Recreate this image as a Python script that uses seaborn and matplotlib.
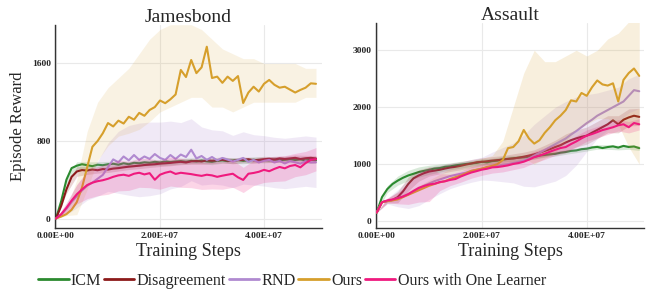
import numpy as np
import matplotlib
matplotlib.use("Agg")
import matplotlib.pyplot as plt
import seaborn as sns
from matplotlib.lines import Line2D

# ---------------- data ----------------
STEPS_M = list(range(0, 51))          # training steps, millions
BAND_STEPS_M = list(range(0, 51, 2))  # coarser grid for spread bands

SERIES = ["ICM", "Disagreement", "RND", "Ours", "Ours with One Learner"]
COLORS = ["#2b8a2f", "#8c1a1a", "#b08ad0", "#d69f2c", "#ef1a7e"]

X_TICKS = [0, 2e7, 4e7]
X_TICK_LABELS = ["0.00E+00", "2.00E+07", "4.00E+07"]
J_Y_TICKS = [0, 800, 1600]
A_Y_TICKS = [0, 1000, 2000, 3000]

# Jamesbond
J_ICM = [0, 180, 400, 520, 545, 560, 550, 540, 555, 550,
         560, 565, 555, 570, 560, 575, 570, 580, 575, 585,
         578, 590, 582, 588, 592, 585, 595, 588, 598, 590,
         585, 595, 600, 592, 598, 604, 595, 600, 606, 598,
         604, 600, 610, 602, 606, 612, 604, 610, 600, 606, 600]
J_DIS = [0, 130, 300, 430, 485, 500, 495, 505, 498, 510,
         505, 515, 520, 528, 535, 540, 545, 552, 556, 560,
         566, 570, 574, 580, 585, 578, 590, 594, 588, 600,
         596, 600, 606, 598, 594, 602, 606, 612, 600, 606,
         612, 616, 608, 620, 614, 620, 626, 614, 622, 626, 620]
J_RND = [0, 40, 100, 170, 230, 290, 340, 370, 410, 450,
         530, 610, 580, 640, 600, 655, 605, 640, 615, 665,
         625, 605, 655, 615, 660, 635, 710, 620, 645, 605,
         635, 600, 625, 608, 588, 605, 625, 585, 605, 578,
         595, 605, 578, 595, 568, 592, 580, 566, 592, 578, 580]
J_OURS = [0, 20, 45, 90, 170, 320, 530, 740, 800, 880,
          985, 950, 1010, 980, 1050, 1020, 1090, 1060, 1120, 1150,
          1218, 1190, 1230, 1280, 1533, 1460, 1636, 1500, 1560, 1773,
          1450, 1464, 1400, 1464, 1420, 1470, 1192, 1300, 1360, 1310,
          1390, 1430, 1380, 1350, 1360, 1330, 1300, 1327, 1350, 1395, 1390]
J_ONE = [0, 45, 110, 185, 250, 300, 345, 370, 385, 395,
         410, 430, 445, 452, 440, 462, 472, 455, 468, 400,
         452, 472, 485, 460, 472, 465, 458, 448, 440, 452,
         445, 430, 442, 452, 462, 425, 398, 462, 470, 482,
         502, 488, 512, 532, 518, 542, 552, 528, 572, 605, 612]

J_ICM_ERR = [0, 40, 40, 35, 30, 30, 30, 30, 30, 30, 30, 30, 30,
             30, 30, 30, 30, 30, 30, 30, 30, 30, 30, 30, 30, 30]
J_DIS_ERR = [0, 40, 50, 40, 30, 30, 30, 30, 30, 30, 30, 30, 30,
             30, 30, 30, 30, 30, 30, 30, 30, 30, 30, 30, 30, 30]
J_RND_ERR = [0, 60, 120, 150, 180, 250, 320, 360, 380, 380, 370, 350, 330,
             320, 300, 280, 280, 270, 270, 260, 260, 260, 260, 260, 260, 260]
J_ONE_ERR = [0, 50, 100, 140, 150, 160, 160, 150, 150, 150, 150, 150, 150,
             140, 140, 140, 140, 140, 130, 130, 130, 130, 130, 120, 120, 120]
J_OURS_LO = [0, 30, 40, 300, 600, 750, 850, 880, 920, 1000, 1100, 1150, 1200,
             1250, 1250, 1150, 1150, 1100, 1150, 1200, 1200, 1200, 1200, 1200, 1250, 1250]
J_OURS_HI = [0, 100, 400, 900, 1200, 1350, 1450, 1550, 1700, 1850, 1950, 2000, 2000,
             2000, 1950, 1850, 1750, 1700, 1650, 1650, 1600, 1600, 1600, 1600, 1550, 1550]

# Assault
A_ICM = [150, 420, 560, 650, 710, 760, 800, 830, 860, 880,
         900, 922, 930, 952, 960, 978, 990, 1002, 1012, 1020,
         1040, 1030, 1052, 1060, 1085, 1090, 1100, 1112, 1118, 1130,
         1128, 1150, 1160, 1172, 1180, 1200, 1212, 1232, 1240, 1262,
         1270, 1292, 1302, 1282, 1300, 1312, 1290, 1320, 1300, 1310, 1280]
A_DIS = [150, 330, 350, 370, 420, 520, 650, 750, 800, 840,
         870, 885, 900, 922, 940, 952, 970, 992, 1010, 1032,
         1040, 1050, 1062, 1070, 1080, 1092, 1100, 1112, 1130, 1150,
         1172, 1200, 1232, 1262, 1300, 1332, 1380, 1420, 1452, 1480,
         1500, 1552, 1600, 1650, 1700, 1770, 1700, 1780, 1820, 1850, 1830]
A_RND = [150, 330, 350, 370, 400, 430, 470, 520, 570, 620,
         660, 700, 730, 760, 790, 810, 830, 850, 880, 900,
         920, 940, 960, 970, 990, 1000, 1020, 1040, 1060, 1100,
         1150, 1200, 1250, 1300, 1350, 1400, 1450, 1520, 1580, 1650,
         1720, 1780, 1850, 1900, 1950, 2000, 2050, 2100, 2200, 2300, 2280]
A_OURS = [150, 330, 350, 362, 380, 420, 460, 500, 540, 580,
          620, 650, 680, 700, 740, 770, 800, 840, 880, 900,
          920, 950, 970, 1000, 1070, 1280, 1300, 1400, 1600, 1450,
          1360, 1420, 1550, 1650, 1770, 1850, 1950, 2120, 2100, 2250,
          2200, 2350, 2470, 2400, 2380, 2420, 2100, 2480, 2600, 2680, 2550]
A_ONE = [150, 330, 362, 378, 402, 430, 472, 528, 582, 615,
         642, 655, 684, 698, 722, 738, 782, 818, 852, 876,
         902, 918, 942, 948, 962, 978, 1002, 1018, 1042, 1078,
         1122, 1148, 1182, 1218, 1252, 1282, 1300, 1352, 1398, 1452,
         1500, 1528, 1562, 1598, 1622, 1648, 1682, 1700, 1648, 1722, 1700]

A_ICM_ERR = [0, 60, 80, 90, 90, 80, 70, 60, 60, 50, 50, 50, 50,
             50, 40, 40, 40, 40, 40, 40, 40, 40, 40, 40, 40, 40]
A_DIS_ERR = [0, 40, 100, 120, 100, 80, 70, 70, 70, 70, 70, 70, 70,
             80, 80, 80, 100, 120, 150, 150, 150, 150, 150, 150, 150, 150]
A_RND_ERR = [0, 50, 150, 250, 300, 280, 250, 220, 200, 200, 200, 250, 300,
             350, 450, 550, 600, 650, 650, 600, 500, 400, 350, 300, 300, 300]
A_ONE_ERR = [0, 40, 100, 180, 250, 300, 150, 100, 100, 100, 100, 100, 100,
             100, 100, 100, 100, 100, 100, 100, 100, 100, 100, 100, 100, 100]
A_OURS_LO = [150, 340, 380, 480, 560, 650, 740, 820, 880, 900, 920, 950, 950,
             1000, 1100, 1000, 1100, 1200, 1400, 1600, 1700, 1800, 1800, 1700, 1300, 1000]
A_OURS_HI = [150, 340, 420, 520, 620, 720, 820, 920, 1000, 1050, 1100, 1150, 1400,
             2000, 2600, 3000, 2800, 2800, 2900, 3000, 2900, 3000, 3200, 3300, 3500, 3500]

# ---------------- drawing ----------------
sns.set_theme(style="white")
plt.rcParams['font.family'] = ['Liberation Serif', 'DejaVu Serif']

steps = np.array(STEPS_M) * 1e6
bsteps = np.array(BAND_STEPS_M) * 1e6

fig = plt.figure(figsize=(6.49, 2.91), dpi=100)
axJ = fig.add_axes([0.0847, 0.2165, 0.4114, 0.6976])
axA = fig.add_axes([0.5789, 0.2175, 0.4139, 0.7045])


def band_from_err(mean, err):
    m = np.array(mean, dtype=float)[::2]
    e = np.array(err, dtype=float)
    return m - e, m + e


def draw_series(ax, mean, lo, hi, color, z, band_alpha=0.2):
    ax.fill_between(bsteps, lo, hi, color=color, alpha=band_alpha, lw=0, zorder=z)
    sns.lineplot(x=steps, y=np.array(mean, dtype=float), color=color, lw=1.5,
                 ax=ax, zorder=z + 0.5, errorbar=None)


panels = [
    (axJ, "Jamesbond", [J_ICM, J_DIS, J_RND, J_OURS, J_ONE],
     [J_ICM_ERR, J_DIS_ERR, J_RND_ERR, None, J_ONE_ERR], (J_OURS_LO, J_OURS_HI),
     J_Y_TICKS, (-98, 1997), 5.115e7, 0.13),
    (axA, "Assault", [A_ICM, A_DIS, A_RND, A_OURS, A_ONE],
     [A_ICM_ERR, A_DIS_ERR, A_RND_ERR, None, A_ONE_ERR], (A_OURS_LO, A_OURS_HI),
     A_Y_TICKS, (-118, 3485), 5.097e7, 0.16),
]

for ax, title, means, errs, ours_band, yticks, ylim, xmax, ours_alpha in panels:
    for i, (mean, err, color) in enumerate(zip(means, errs, COLORS)):
        if err is None:
            lo, hi = ours_band
            draw_series(ax, mean, lo, hi, color, 2 * i + 2, band_alpha=ours_alpha)
        else:
            lo, hi = band_from_err(mean, err)
            draw_series(ax, mean, lo, hi, color, 2 * i + 2, band_alpha=0.18)

    ax.set_xlim(-0.02e7, xmax)
    ax.set_ylim(*ylim)
    ax.set_xticks(X_TICKS)
    ax.set_xticklabels(X_TICK_LABELS)
    ax.set_yticks(yticks)
    ax.set_yticklabels([str(t) for t in yticks])
    ax.tick_params(axis='both', length=0, pad=3, labelsize=6.8)
    for lab in ax.get_xticklabels() + ax.get_yticklabels():
        lab.set_fontweight('bold')
    ax.grid(True, color="#e9e9e9", lw=0.8, zorder=0)
    ax.set_axisbelow(True)
    for s in ["top", "right"]:
        ax.spines[s].set_visible(False)
    for s in ["left", "bottom"]:
        ax.spines[s].set_color("#333333")
        ax.spines[s].set_linewidth(1.0)
    ax.set_title(title, fontsize=14, pad=2)
    ax.set_xlabel("Training Steps", fontsize=13, labelpad=2)
    ax.set_ylabel("")

axJ.set_ylabel("Episode Reward", fontsize=12, labelpad=4)

handles = [Line2D([0], [0], color=c, lw=2) for c in COLORS]
fig.legend(handles, SERIES, loc='center', bbox_to_anchor=(292 / 649, 1 - 281 / 291),
           ncol=5, frameon=False, handlelength=1.9, handletextpad=0.15,
           columnspacing=0.15, fontsize=11.6, borderpad=0)

fig.savefig("out.png", dpi=100)
